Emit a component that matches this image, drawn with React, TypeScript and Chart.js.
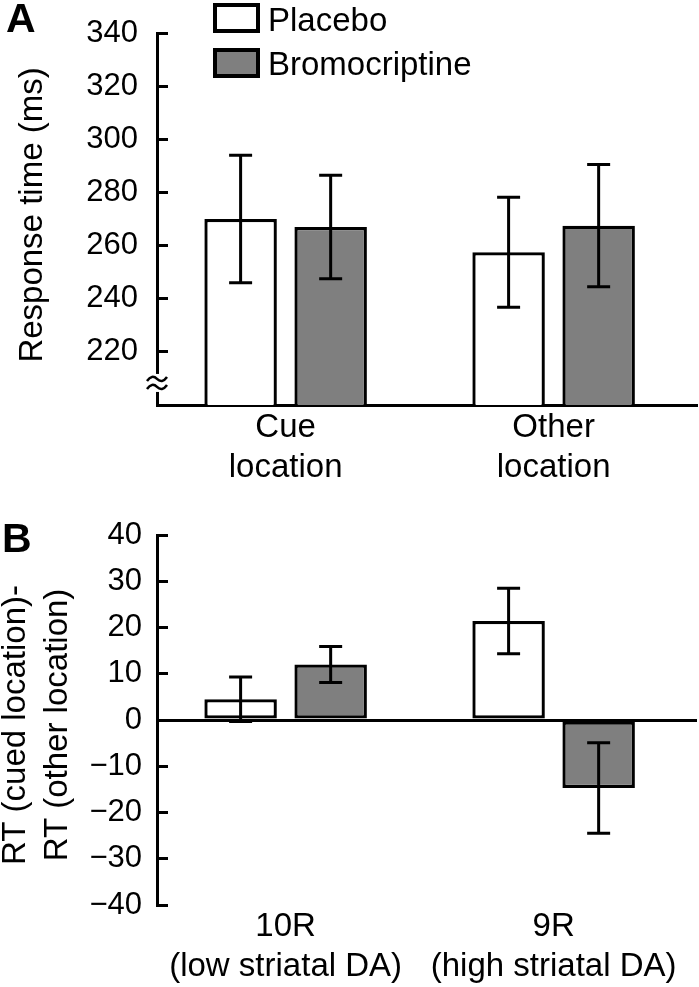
import { useEffect, useRef } from "react";
import { Chart, registerables } from "chart.js";

Chart.register(...registerables);

const FONT = "'Liberation Sans', Arial, Helvetica, sans-serif";

// Series
const seriesNames = ["Placebo", "Bromocriptine"];
const seriesFill = ["#ffffff", "#7f7f7f"];

// Panel A
const categoriesA = [["Cue", "location"], ["Other", "location"]];
const placeboA = [270, 257.5];
const placeboErrA = [24, 20.7];
const bromoA = [267, 267.5];
const bromoErrA = [19.5, 23];
const yMinA = 200;
const yMaxA = 340;
const yStepA = 20;

// Panel B
const categoriesB = [["10R", "(low striatal DA)"], ["9R", "(high striatal DA)"]];
const placeboB = [4.5, 21.4];
const placeboErrB = [4.8, 7.1];
const bromoB = [12, -14.7];
const bromoErrB = [3.9, 9.8];
const yMinB = -40;
const yMaxB = 40;
const yStepB = 10;

type PanelOpts = {
  categories: string[][];
  series: number[][];
  errors: number[][];
  yMin: number;
  yMax: number;
  yStep: number;
  topPad: number;
  xHeight: number;
  xLabelPad: number;
  yLabelPad: number;
  showXBorder: boolean;
  zeroLine: boolean;
  letter: string;
  letterPos: [number, number];
  titleLines: string[];
  titleX: number[];
  titleY: number;
  legend: boolean;
  breakValue: number | null;
  fmt: (v: number) => string;
};

function makeChart(canvas: HTMLCanvasElement, o: PanelOpts) {
  const panelPlugin = {
    id: "panelExtras",
    afterDatasetsDraw(chart: any) {
      const ctx = chart.ctx;
      const y = chart.scales.y;
      chart.data.datasets.forEach((_ds: any, di: number) => {
        const meta = chart.getDatasetMeta(di);
        meta.data.forEach((bar: any, i: number) => {
          const v = o.series[di][i];
          const e = o.errors[di][i];
          const yt = y.getPixelForValue(v + e);
          const yb = y.getPixelForValue(v - e);
          ctx.save();
          ctx.strokeStyle = "#000";
          ctx.lineWidth = 3;
          ctx.beginPath();
          ctx.moveTo(bar.x, yt);
          ctx.lineTo(bar.x, yb);
          ctx.moveTo(bar.x - 11.5, yt);
          ctx.lineTo(bar.x + 11.5, yt);
          ctx.moveTo(bar.x - 11.5, yb);
          ctx.lineTo(bar.x + 11.5, yb);
          ctx.stroke();
          ctx.restore();
        });
      });
    },
    afterDraw(chart: any) {
      const ctx = chart.ctx;
      const area = chart.chartArea;
      ctx.save();
      ctx.fillStyle = "#000";
      // panel letter
      ctx.font = `bold 41px ${FONT}`;
      ctx.textAlign = "left";
      ctx.textBaseline = "alphabetic";
      ctx.fillText(o.letter, o.letterPos[0], o.letterPos[1]);
      // y title
      ctx.font = `33px ${FONT}`;
      ctx.textAlign = "center";
      o.titleLines.forEach((line, i) => {
        ctx.save();
        ctx.translate(o.titleX[i], o.titleY);
        ctx.rotate(-Math.PI / 2);
        ctx.fillText(line, 0, 0);
        ctx.restore();
      });
      // legend
      if (o.legend) {
        chart.data.datasets.forEach((ds: any, i: number) => {
          const by = 3 + i * 45;
          ctx.fillStyle = ds.backgroundColor;
          ctx.fillRect(213, by, 47, 30);
          ctx.strokeStyle = "#000";
          ctx.lineWidth = 4;
          ctx.strokeRect(215, by + 2, 43, 26);
          ctx.fillStyle = "#000";
          ctx.font = `33px ${FONT}`;
          ctx.textAlign = "left";
          ctx.textBaseline = "alphabetic";
          ctx.fillText(ds.label, 268, 31 + i * 44);
        });
      }
      // axis break
      if (o.breakValue !== null) {
        const bx = area.left;
        const byc = chart.scales.y.getPixelForValue(o.breakValue);
        ctx.fillStyle = "#fff";
        ctx.fillRect(bx - 4, byc - 9, 8, 18);
        ctx.strokeStyle = "#000";
        ctx.lineWidth = 2.5;
        [byc - 4, byc + 4].forEach((ty) => {
          ctx.beginPath();
          ctx.moveTo(bx - 10, ty + 2);
          ctx.quadraticCurveTo(bx - 5, ty - 5, bx, ty);
          ctx.quadraticCurveTo(bx + 5, ty + 5, bx + 10, ty - 2);
          ctx.stroke();
        });
      }
      ctx.restore();
    },
  };

  return new Chart(canvas, {
    type: "bar",
    data: {
      datasets: seriesNames.map((name, di) => ({
        label: name,
        data: o.series[di].map((v, i) => ({ x: i, y: v })),
        backgroundColor: seriesFill[di],
        borderColor: "#000",
        borderWidth: 3.3,
        borderSkipped: false,
        categoryPercentage: 0.672,
        barPercentage: 0.805,
      })),
    },
    options: {
      responsive: false,
      animation: false,
      layout: { padding: { top: o.topPad, right: 2, left: 0, bottom: 0 } },
      plugins: { legend: { display: false }, tooltip: { enabled: false } },
      scales: {
        x: {
          type: "linear",
          min: -0.48,
          max: 1.535,
          offset: false,
          afterBuildTicks: (s: any) => {
            s.ticks = o.categories.map((_c, i) => ({ value: i }));
          },
          afterFit: (s: any) => {
            s.height = o.xHeight;
          },
          ticks: {
            padding: o.xLabelPad,
            color: "#000",
            autoSkip: false,
            maxRotation: 0,
            font: { family: FONT, size: 33, lineHeight: 1.22 },
            callback: (v: any) => o.categories[v] ?? "",
          },
          grid: { display: false, drawTicks: false },
          border: { display: o.showXBorder, width: 3, color: "#000" },
        },
        y: {
          min: o.yMin,
          max: o.yMax,
          afterFit: (s: any) => {
            s.width = 157;
            s.paddingTop = 0;
            s.paddingBottom = 0;
          },
          ticks: {
            stepSize: o.yStep,
            padding: o.yLabelPad,
            color: "#000",
            font: { family: FONT, size: 31 },
            callback: (v: any) => o.fmt(Number(v)),
          },
          grid: {
            drawOnChartArea: o.zeroLine,
            color: (c: any) =>
              o.zeroLine && c.tick && c.tick.value === 0 ? "#000" : "rgba(0,0,0,0)",
            lineWidth: 3,
            drawTicks: true,
            tickLength: -11,
            tickWidth: 3,
            tickColor: "#000",
          },
          border: { display: true, width: 3, color: "#000" },
        },
      },
    } as any,
    plugins: [panelPlugin],
  });
}

export default function App() {
  const refA = useRef<HTMLCanvasElement>(null);
  const refB = useRef<HTMLCanvasElement>(null);

  useEffect(() => {
    Chart.defaults.font.family = FONT;
    const a = makeChart(refA.current!, {
      categories: categoriesA,
      series: [placeboA, bromoA],
      errors: [placeboErrA, bromoErrA],
      yMin: yMinA,
      yMax: yMaxA,
      yStep: yStepA,
      topPad: 33,
      xHeight: 85,
      xLabelPad: 3,
      yLabelPad: 30,
      showXBorder: true,
      zeroLine: false,
      letter: "A",
      letterPos: [6, 32],
      titleLines: ["Response time (ms)"],
      titleX: [42],
      titleY: 215,
      legend: true,
      breakValue: 208.3,
      fmt: (v) => (v === yMinA ? "" : String(v)),
    });
    const b = makeChart(refB.current!, {
      categories: categoriesB,
      series: [placeboB, bromoB],
      errors: [placeboErrB, bromoErrB],
      yMin: yMinB,
      yMax: yMaxB,
      yStep: yStepB,
      topPad: 45,
      xHeight: 82,
      xLabelPad: 2,
      yLabelPad: 26,
      showXBorder: false,
      zeroLine: true,
      letter: "B",
      letterPos: [2, 62],
      titleLines: ["RT (cued location)-", "RT (other location)"],
      titleX: [25, 67],
      titleY: 235,
      legend: false,
      breakValue: null,
      fmt: (v) => (v < 0 ? "\u2212" + Math.abs(v) : String(v)),
    });
    return () => {
      a.destroy();
      b.destroy();
    };
  }, []);

  return (
    <div style={{ position: "absolute", left: 0, top: 0, width: 699, height: 987, background: "#fff" }}>
      <canvas ref={refA} width={699} height={490} style={{ position: "absolute", left: 0, top: 0, width: 699, height: 490 }} />
      <canvas ref={refB} width={699} height={497} style={{ position: "absolute", left: 0, top: 490, width: 699, height: 497 }} />
    </div>
  );
}
